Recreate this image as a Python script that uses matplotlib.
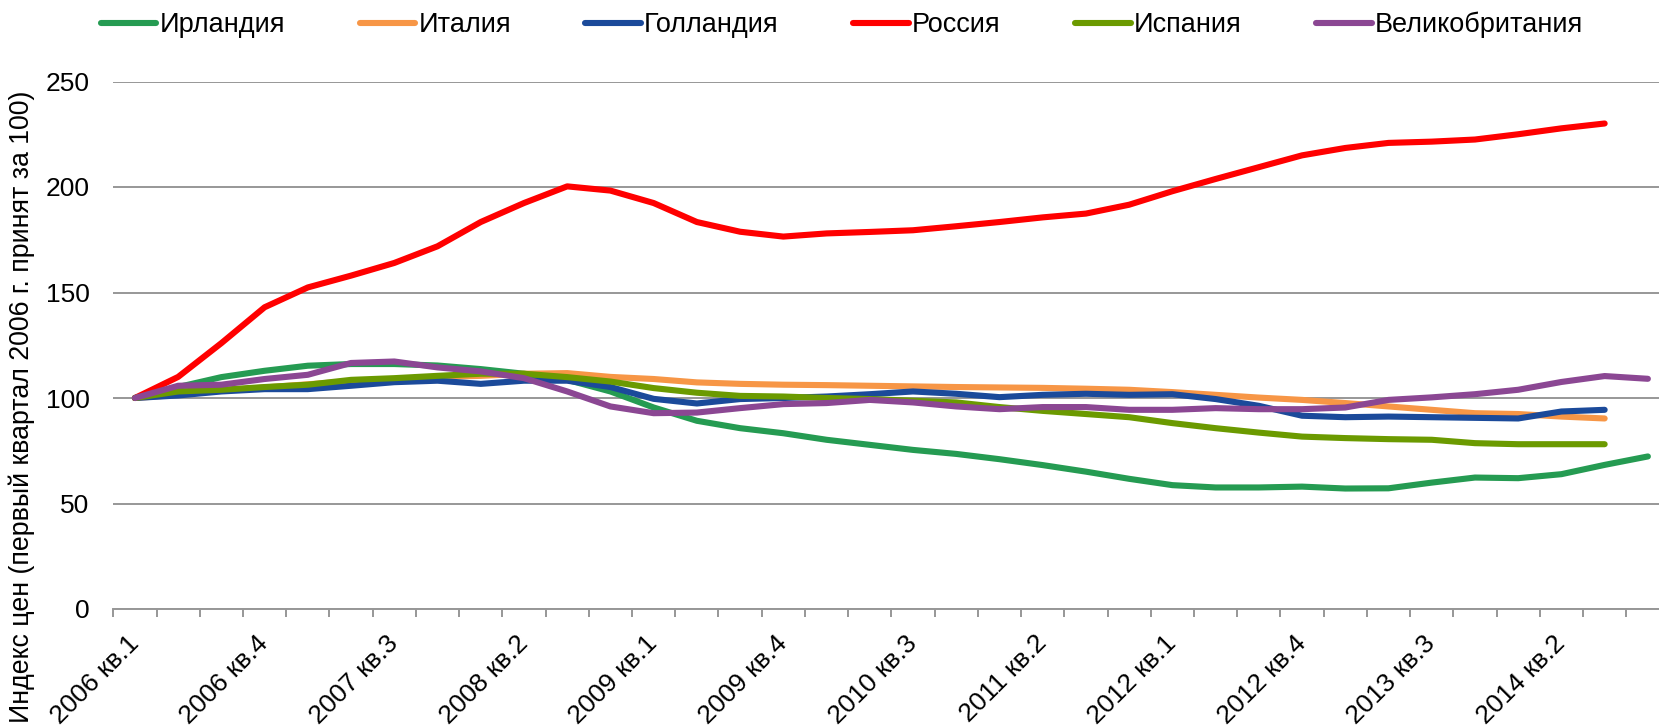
import numpy as np
from matplotlib import pyplot as plt
from matplotlib.ticker import FixedLocator

plt.rcParams['font.family'] = ['Liberation Sans', 'DejaVu Sans']

# quarters 2006 кв.1 .. 2014 кв.4
quarters = [f"{y} кв.{q}" for y in range(2006, 2015) for q in range(1, 5)]

ireland = [100, 105.2, 109.9, 112.9, 115.3, 116.1, 116.1, 115.4, 113.7, 111.5,
           108.6, 103.1, 95.5, 89.2, 85.7, 83.3, 80.2, 77.8, 75.4, 73.5,
           71.0, 68.2, 65.1, 61.7, 58.7, 57.6, 57.6, 58.0, 57.1, 57.2,
           59.9, 62.3, 62.0, 63.9, 68.3, 72.3]
italy = [100, 101.5, 103.5, 105.0, 106.5, 108.0, 109.0, 110.0, 110.5, 111.5,
         111.8, 110.0, 109.0, 107.4, 106.7, 106.3, 106.1, 105.8, 105.5, 105.2,
         105.0, 104.8, 104.4, 103.9, 102.8, 101.5, 100.2, 99.1, 97.6, 96.0,
         94.4, 92.8, 92.4, 91.2, 90.3]
holland = [100, 101.2, 103.1, 104.2, 104.2, 105.8, 107.5, 108.2, 106.7, 108.2,
           108.2, 105.2, 99.6, 97.4, 99.5, 100.0, 100.7, 101.8, 103.1, 102.0,
           100.4, 101.5, 102.0, 101.5, 101.8, 99.5, 96.3, 91.6, 90.9, 91.2,
           90.9, 90.6, 90.3, 93.6, 94.4]
russia = [100, 110.0, 126.0, 143.0, 152.4, 158.0, 164.0, 171.9, 183.4, 192.4,
          200.3, 198.3, 192.4, 183.4, 178.8, 176.5, 178.0, 178.7, 179.5, 181.4,
          183.4, 185.6, 187.4, 191.6, 198.0, 203.8, 209.4, 215.0, 218.5, 220.9,
          221.5, 222.5, 225.0, 227.8, 230.1]
spain = [100, 103.1, 103.9, 105.2, 106.3, 108.6, 109.4, 110.5, 111.5, 111.5,
         109.9, 107.8, 104.7, 102.5, 101.0, 100.7, 100.0, 99.5, 98.7, 97.9,
         95.7, 93.9, 92.4, 90.9, 88.1, 85.7, 83.6, 81.7, 81.0, 80.5,
         80.2, 78.6, 78.1, 78.1, 78.1]
uk = [100, 105.8, 106.3, 109.0, 111.0, 116.6, 117.3, 114.5, 112.6, 109.4,
      103.1, 96.0, 92.8, 93.1, 95.2, 97.1, 97.6, 99.1, 97.9, 96.0,
      94.7, 95.7, 95.7, 94.4, 94.4, 95.2, 94.7, 94.7, 95.5, 99.1,
      100.3, 101.8, 103.9, 107.6, 110.4, 109.1]

series = [
    ("Ирландия", ireland, "#259B52"),
    ("Италия", italy, "#F79646"),
    ("Голландия", holland, "#1B4A9A"),
    ("Россия", russia, "#FF0000"),
    ("Испания", spain, "#6B9A00"),
    ("Великобритания", uk, "#8B4793"),
]

W, H = 1659, 726
fig = plt.figure(figsize=(W / 100, H / 100), dpi=100)
# plot area in pixels: x from 113 to 1670 (clipped by figure edge), y from 81.5 to 609
ax = fig.add_axes([113.3 / W, (H - 609) / H, (1669.5 - 113.3) / W, (609 - 81.5) / H])

for name, vals, col in series:
    ax.plot(np.arange(len(vals)), vals, color=col, lw=4.4, label=name,
            solid_capstyle='round', solid_joinstyle='round', clip_on=False)

ax.set_xlim(-0.5, len(quarters) - 0.5)
ax.set_ylim(0, 250)
ax.set_yticks(np.arange(0, 251, 50))
ax.grid(axis='y', color='#979797', lw=1.4)
ax.set_axisbelow(True)
for s in ['top', 'right', 'left']:
    ax.spines[s].set_visible(False)
ax.spines['bottom'].set_color('#979797')
ax.spines['bottom'].set_linewidth(1.4)
ax.tick_params(axis='y', length=0, pad=17, labelsize=19)

ax.set_xticks(np.arange(0, len(quarters), 3))
ax.set_xticklabels(quarters[::3], rotation=45, ha='right', va='center',
                   rotation_mode='anchor', fontsize=19)
ax.tick_params(axis='x', which='major', length=0, pad=22)
ax.xaxis.set_minor_locator(FixedLocator(np.arange(-0.5, len(quarters), 1)))
ax.tick_params(axis='x', which='minor', length=5.5, width=1.4, color='#979797')

fig.text(21.5 / W, 1 - 407 / H, "Индекс цен (первый квартал 2006 г. принят за 100)",
         rotation=90, ha='center', va='center', fontsize=19.3)

fig.legend(loc='center', bbox_to_anchor=(842 / W, 1 - 25 / H), ncol=6, frameon=False,
           fontsize=19.5, handlelength=2.05, handletextpad=0.12, columnspacing=2.75)

fig.savefig("out.png", dpi=100)
